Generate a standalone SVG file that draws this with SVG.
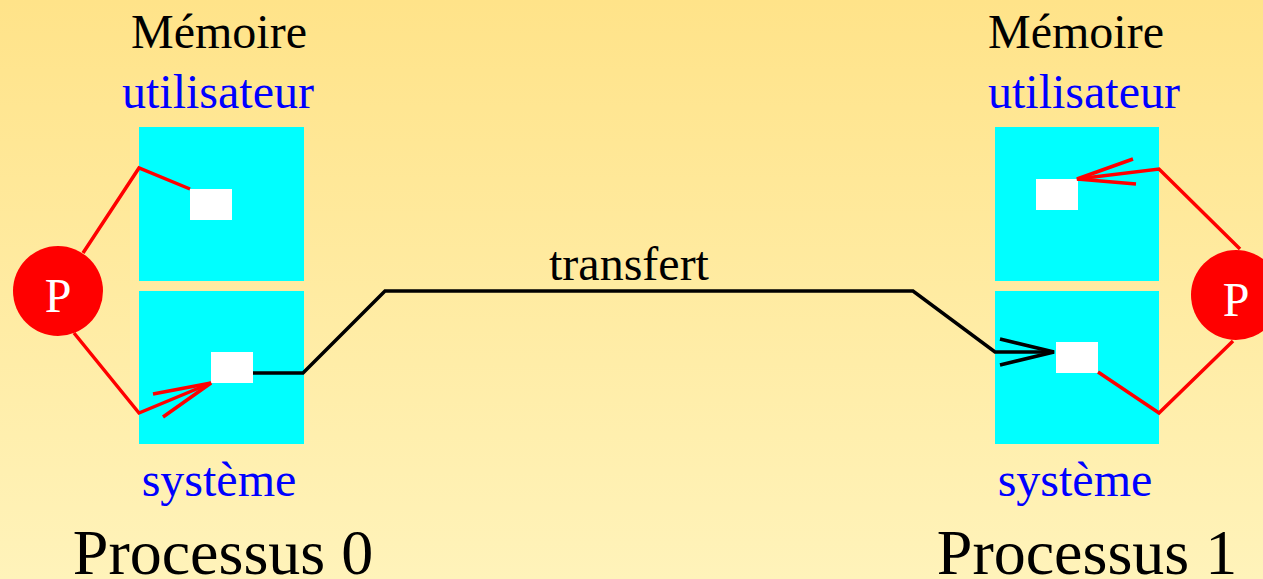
<svg xmlns="http://www.w3.org/2000/svg" width="1263" height="579" viewBox="0 0 1263 579">
<defs>
<linearGradient id="bg" x1="0" y1="0" x2="0" y2="1">
<stop offset="0" stop-color="#FFE389"/>
<stop offset="1" stop-color="#FFF3BA"/>
</linearGradient>
<style>
.mem{fill:#00FFFF}
.buf{fill:#FFFFFF}
.t{font-family:"Liberation Serif","Times New Roman",serif;font-size:48px;text-anchor:middle}
.blk{fill:#000}
.blu{fill:#0000FF}
.big{font-size:64px}
.red{fill:none;stroke:#FF0000;stroke-width:3.5}
.xfer{fill:none;stroke:#000;stroke-width:3.5}
.proc{fill:#FF0000}
.pl{fill:#FFFFFF}
</style>
</defs>
<rect width="1263" height="579" fill="url(#bg)"/>

<g id="process0">
<text class="t blk" x="219" y="48">Mémoire</text>
<text class="t blu" x="218" y="108">utilisateur</text>
<rect class="mem" x="139" y="127" width="165" height="154"/>
<rect class="mem" x="139" y="291" width="165" height="153"/>
<rect class="buf" x="190" y="189" width="42" height="31"/>
<rect class="buf" x="211" y="352" width="42" height="31"/>
<text class="t blu" x="219" y="496">système</text>
<text class="t blk big" x="223" y="574">Processus 0</text>
</g>

<g id="process1">
<text class="t blk" x="1076" y="48">Mémoire</text>
<text class="t blu" x="1084" y="108">utilisateur</text>
<rect class="mem" x="995" y="127" width="164" height="154"/>
<rect class="mem" x="995" y="291" width="164" height="153"/>
<rect class="buf" x="1036" y="179" width="42" height="31"/>
<rect class="buf" x="1056" y="342" width="42" height="31"/>
<text class="t blu" x="1075" y="496">système</text>
<text class="t blk big" x="1087" y="574">Processus 1</text>
</g>

<g id="connectors">
<polyline class="red" points="83,253 139,168 190,189"/>
<polyline class="red" points="74,333 139,413 211,383"/>
<polyline class="red" points="153,394 211,383 163,417"/>
<polyline class="red" points="1240,249 1159,169 1077,179"/>
<polyline class="red" points="1133,159 1077,179 1136,184"/>
<polyline class="red" points="1233,341 1159,413 1098,372"/>
<polyline class="xfer" points="253,373 303,373 385,291 913,291 995,352 1054,352"/>
<polyline class="xfer" stroke-width="4" points="1000,339 1054,352 1000,365"/>
<text class="t blk" x="629" y="280">transfert</text>
</g>

<g id="P0">
<circle class="proc" cx="58" cy="291" r="45"/>
<text class="t pl" x="58" y="312">P</text>
</g>
<g id="P1">
<circle class="proc" cx="1236" cy="295" r="45"/>
<text class="t pl" x="1236" y="316">P</text>
</g>
</svg>
